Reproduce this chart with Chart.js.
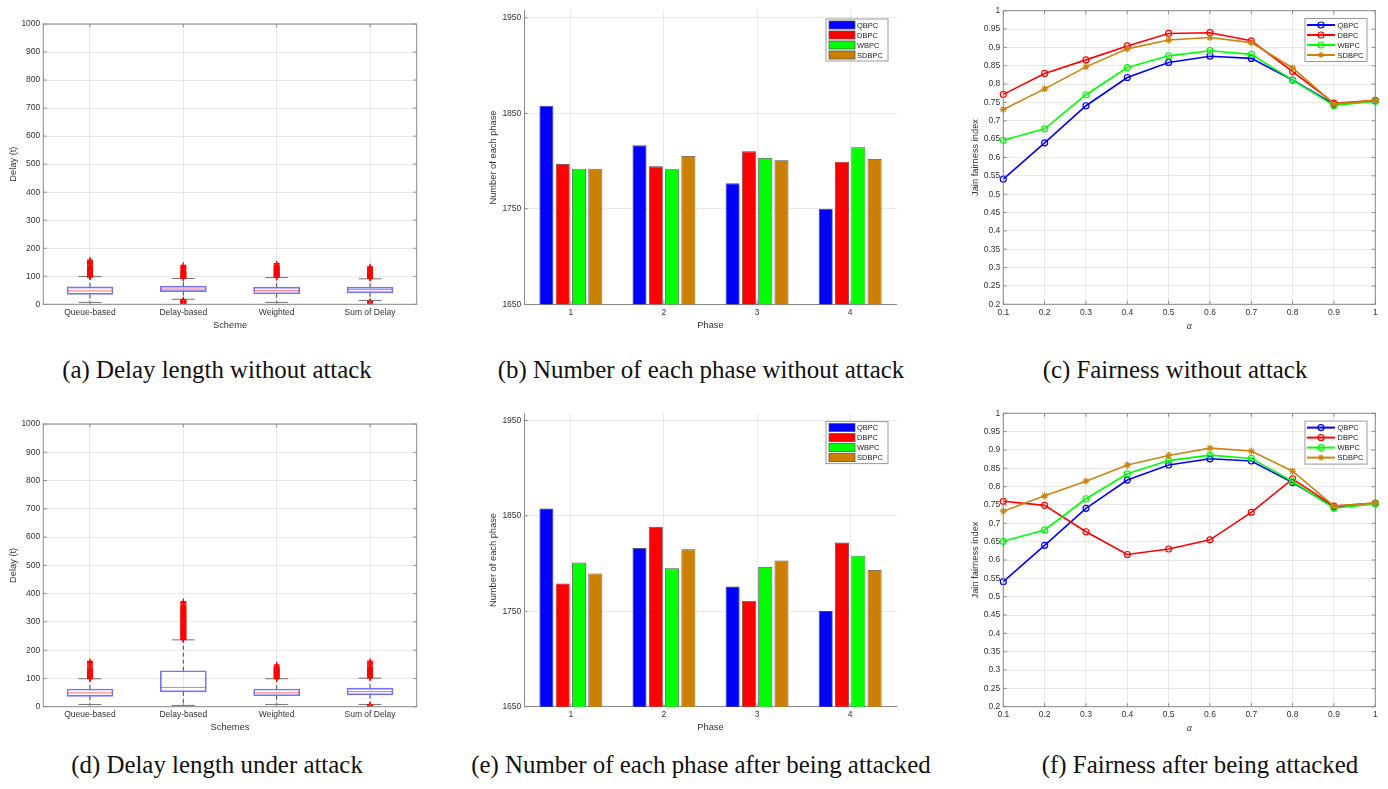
<!DOCTYPE html>
<html>
<head>
<meta charset="utf-8">
<script src="https://cdn.jsdelivr.net/npm/chart.js@4.4.1/dist/chart.umd.min.js"></script>
<style>
    body { margin: 0; background: #fff; width: 1388px; height: 789px; overflow: hidden; position: relative; }
    canvas { position: absolute; }
    .cap {
        position: absolute;
        font-family: 'Liberation Serif', 'Times New Roman', serif;
        font-size: 24.9px;
        line-height: 1;
        color: #111;
        white-space: nowrap;
        transform: translateX(-50%);
    }
</style>
</head>
<body>
<div class="cap" style="left:217px; top:358px;">(a) Delay length without attack</div>
<div class="cap" style="left:701px; top:358px;">(b) Number of each phase without attack</div>
<div class="cap" style="left:1175px; top:358px;">(c) Fairness without attack</div>
<div class="cap" style="left:217px; top:753px;">(d) Delay length under attack</div>
<div class="cap" style="left:701px; top:753px;">(e) Number of each phase after being attacked</div>
<div class="cap" style="left:1200px; top:753px;">(f) Fairness after being attacked</div>

<script>
/**
 * Figura: retardo, número de fases y equidad (sin ataque / con ataque)
 */

// ---------- Datos: diagramas de caja (retardo) ----------
const schemeLabels = ['Queue-based', 'Delay-based', 'Weighted', 'Sum of Delay'];
const delayTicks = [0, 100, 200, 300, 400, 500, 600, 700, 800, 900, 1000];

// (a) sin ataque
const q1NoAtk = [35.2, 45.4, 37.5, 40.9];
const medNoAtk = [47.7, 54.5, 48.8, 52.2];
const q3NoAtk = [62.4, 64.7, 61.3, 61.3];
const whiskLoNoAtk = [6.8, 18, 6.8, 13.6];
const whiskHiNoAtk = [98.8, 92, 95.3, 90.8];
const outQueueNoAtk = [97, 99, 100, 102, 104, 105, 107, 109, 111, 112, 114, 116, 118, 119, 121, 123, 125, 127, 129, 131, 134, 137, 140, 143, 146, 149, 152, 155, 158];
const outDelayNoAtk = [93, 95, 97, 99, 101, 103, 105, 107, 109, 111, 113, 115, 117, 120, 123, 127, 131, 135, 139, 3, 5, 6, 8, 10, 12, 14, 16];
const outWeightedNoAtk = [96, 98, 100, 102, 104, 106, 108, 110, 112, 114, 116, 118, 120, 122, 124, 126, 128, 130, 132, 135, 138, 141, 145];
const outSumNoAtk = [92, 94, 96, 98, 100, 102, 104, 106, 108, 110, 112, 114, 116, 118, 120, 122, 125, 128, 131, 134, 4, 6, 8, 10];

// (d) con ataque
const q1Atk = [36.4, 52.3, 38.6, 42.0];
const medAtk = [48.9, 68.2, 48.9, 53.4];
const q3Atk = [62.5, 127.3, 62.5, 65.9];
const whiskLoAtk = [8, 4.5, 8, 8];
const whiskHiAtk = [98.9, 236.4, 98.9, 101];
const outQueueAtk = [99, 101, 103, 105, 107, 109, 111, 113, 115, 117, 119, 121, 123, 125, 127, 129, 131, 133, 136, 140, 144, 148, 152, 156, 160];
const outDelayAtk = [237, 239, 241, 243, 245, 247, 249, 251, 253, 255, 257, 259, 261, 263, 265, 267, 269, 271, 273, 275, 277, 279, 281, 283, 285, 287, 289, 291, 293, 295, 297, 299, 301, 303, 305, 307, 309, 311, 313, 315, 317, 319, 321, 323, 325, 327, 329, 331, 333, 335, 337, 339, 341, 343, 345, 348, 351, 354, 357, 360, 364, 368, 372];
const outWeightedAtk = [99, 101, 103, 105, 107, 109, 111, 113, 115, 117, 119, 121, 123, 125, 127, 129, 131, 133, 135, 138, 141, 144, 148];
const outSumAtk = [102, 104, 106, 108, 110, 112, 114, 116, 118, 120, 122, 124, 126, 128, 130, 132, 135, 138, 141, 144, 148, 152, 156, 161, 1, 3, 5, 7];

// ---------- Datos: número de cada fase ----------
const phaseLabels = ['1', '2', '3', '4'];
const phaseTicks = [1650, 1750, 1850, 1950];
const phaseQbpcNoAtk = [1858, 1816.5, 1776.7, 1750.2];
const phaseDbpcNoAtk = [1797, 1794.5, 1810.2, 1799.4];
const phaseWbpcNoAtk = [1792, 1791.4, 1803.2, 1814.4];
const phaseSdbpcNoAtk = [1792, 1805.3, 1800.8, 1802.2];
const phaseQbpcAtk = [1857.8, 1816.3, 1776.1, 1750.2];
const phaseDbpcAtk = [1779.2, 1838.3, 1761.1, 1822.2];
const phaseWbpcAtk = [1801.2, 1795, 1796.4, 1808.2];
const phaseSdbpcAtk = [1789.7, 1814.9, 1803.3, 1793.2];

// ---------- Datos: índice de equidad de Jain ----------
const alphaLabels = ['0.1', '0.2', '0.3', '0.4', '0.5', '0.6', '0.7', '0.8', '0.9', '1'];
const fairTicks = [0.2, 0.25, 0.3, 0.35, 0.4, 0.45, 0.5, 0.55, 0.6, 0.65, 0.7, 0.75, 0.8, 0.85, 0.9, 0.95, 1];
const fairQbpcNoAtk = [0.541, 0.640, 0.741, 0.818, 0.859, 0.876, 0.870, 0.811, 0.745, 0.754];
const fairDbpcNoAtk = [0.772, 0.829, 0.866, 0.904, 0.938, 0.940, 0.918, 0.834, 0.748, 0.756];
const fairWbpcNoAtk = [0.647, 0.678, 0.771, 0.845, 0.877, 0.891, 0.881, 0.811, 0.742, 0.753];
const fairSdbpcNoAtk = [0.731, 0.787, 0.847, 0.896, 0.920, 0.927, 0.913, 0.844, 0.746, 0.755];
const fairQbpcAtk = [0.541, 0.640, 0.741, 0.818, 0.859, 0.876, 0.870, 0.811, 0.745, 0.754];
const fairDbpcAtk = [0.760, 0.749, 0.677, 0.615, 0.630, 0.655, 0.730, 0.821, 0.747, 0.755];
const fairWbpcAtk = [0.651, 0.682, 0.767, 0.835, 0.871, 0.886, 0.877, 0.814, 0.741, 0.753];
const fairSdbpcAtk = [0.733, 0.775, 0.815, 0.859, 0.885, 0.905, 0.897, 0.842, 0.747, 0.755];

// ---------- Estilos ----------
const FONT = "'Liberation Sans', Arial, Helvetica, sans-serif";
const TEXT_COLOR = '#333';
const GRID_COLOR = 'rgba(0,0,0,0.085)';
const AXIS_COLOR = '#8a8a8a';
const COLORES = {
    q: '#0000ff',
    d: '#ff0000',
    w: '#00ff00',
    sd: '#cc8000'
};

// Posiciones de cada panel (canvas y área de trazado, en px de página)
const panelA = { x: 0, y: 0, w: 460, h: 335, l: 43.3, t: 10.7, r: 416.7, b: 304.3, xTitleY: 325, yTitleX: 13.8 };
const panelB = { x: 460, y: 0, w: 460, h: 335, l: 524.3, t: 10.7, r: 896.7, b: 304.3, xTitleY: 325, yTitleX: 493.7 };
const panelC = { x: 920, y: 0, w: 468, h: 335, l: 1003.3, t: 10.7, r: 1375.3, b: 304.3, xTitleY: 326, yTitleX: 975.8 };
const panelD = { x: 0, y: 400, w: 460, h: 337, l: 43.3, t: 413.3, r: 416.7, b: 706.7, xTitleY: 727.3, yTitleX: 13.8 };
const panelE = { x: 460, y: 400, w: 460, h: 337, l: 524.3, t: 413.3, r: 896.7, b: 706.7, xTitleY: 727.3, yTitleX: 493.7 };
const panelF = { x: 920, y: 400, w: 468, h: 337, l: 1003.3, t: 413.3, r: 1375.3, b: 706.7, xTitleY: 728.3, yTitleX: 975.8 };

// Plugin: marco, marcas de ticks hacia dentro y leyenda interior
const panelDecor = {
    id: 'panelDecor',
    afterDraw(chart, args, opts) {
        const { ctx, chartArea: a, scales } = chart;
        const tl = 3.5;
        ctx.save();
        ctx.strokeStyle = AXIS_COLOR;
        ctx.lineWidth = 1;
        ctx.beginPath();
        scales.y.ticks.forEach(t => {
            const py = scales.y.getPixelForValue(t.value);
            ctx.moveTo(a.left, py);
            ctx.lineTo(a.left + tl, py);
            if (opts.frame) {
                ctx.moveTo(a.right, py);
                ctx.lineTo(a.right - tl, py);
            }
        });
        scales.x.ticks.forEach((t, i) => {
            const px = scales.x.getPixelForTick(i);
            ctx.moveTo(px, a.bottom);
            ctx.lineTo(px, a.bottom - tl);
            if (opts.frame) {
                ctx.moveTo(px, a.top);
                ctx.lineTo(px, a.top + tl);
            }
        });
        ctx.stroke();
        if (opts.frame) {
            ctx.strokeRect(a.left, a.top, a.right - a.left, a.bottom - a.top);
        }
        if (opts.legend) dibujarLeyenda(chart, opts.legend);
        ctx.restore();
    }
};

function dibujarMarcador(ctx, estilo, x, y, r) {
    ctx.beginPath();
    if (estilo === 'star') {
        ctx.moveTo(x - r, y); ctx.lineTo(x + r, y);
        ctx.moveTo(x, y - r); ctx.lineTo(x, y + r);
        const k = r * 0.707;
        ctx.moveTo(x - k, y - k); ctx.lineTo(x + k, y + k);
        ctx.moveTo(x - k, y + k); ctx.lineTo(x + k, y - k);
    } else {
        ctx.arc(x, y, r, 0, Math.PI * 2);
    }
    ctx.stroke();
}

function dibujarLeyenda(chart, lg) {
    const { ctx, chartArea: a } = chart;
    const bx = a.right - lg.right - lg.width;
    const by = a.top + lg.top;
    ctx.fillStyle = '#fff';
    ctx.fillRect(bx, by, lg.width, lg.height);
    ctx.strokeStyle = '#9a9a9a';
    ctx.lineWidth = 1;
    ctx.strokeRect(bx, by, lg.width, lg.height);
    ctx.font = `7.5px ${FONT}`;
    ctx.textBaseline = 'middle';
    ctx.textAlign = 'left';
    chart.data.datasets.forEach((ds, i) => {
        const cy = by + lg.pad + i * lg.row;
        let textX;
        if (lg.kind === 'bar') {
            const x0 = bx + 3;
            ctx.fillStyle = ds.backgroundColor;
            ctx.fillRect(x0, cy - 4, 26, 8);
            ctx.strokeStyle = '#555';
            ctx.lineWidth = 0.8;
            ctx.strokeRect(x0, cy - 4, 26, 8);
            textX = x0 + 28;
        } else {
            const x0 = bx + 2;
            ctx.strokeStyle = ds.borderColor;
            ctx.lineWidth = 2;
            ctx.beginPath();
            ctx.moveTo(x0, cy);
            ctx.lineTo(x0 + 28, cy);
            ctx.stroke();
            ctx.lineWidth = 1.2;
            dibujarMarcador(ctx, ds.pointStyle, x0 + 14, cy, 3);
            textX = x0 + 30.5;
        }
        ctx.fillStyle = '#222';
        ctx.fillText(ds.label, textX, cy + 0.5);
    });
}

function crearCanvas(p) {
    const canvas = document.createElement('canvas');
    canvas.width = p.w;
    canvas.height = p.h;
    canvas.style.left = p.x + 'px';
    canvas.style.top = p.y + 'px';
    canvas.style.width = p.w + 'px';
    canvas.style.height = p.h + 'px';
    document.body.appendChild(canvas);
    return canvas;
}

function ejeY(p, titulo, min, max, ticks, formato) {
    const lh = 9.3 * 1.2;
    return {
        type: 'linear',
        min: min,
        max: max,
        afterBuildTicks: s => { s.ticks = ticks.map(v => ({ value: v })); },
        afterFit: s => { s.width = p.l - p.x; },
        ticks: {
            color: TEXT_COLOR,
            font: { family: FONT, size: 8.5 },
            padding: 3,
            callback: formato
        },
        grid: { color: GRID_COLOR, drawTicks: false },
        border: { display: false },
        title: {
            display: true,
            text: titulo,
            color: TEXT_COLOR,
            font: { family: FONT, size: 9.3 },
            padding: { top: p.yTitleX - p.x - lh / 2, bottom: 0 }
        }
    };
}

function ejeX(p, titulo, offset, fuenteTitulo) {
    const font = fuenteTitulo || { family: FONT, size: 9.3 };
    const lh = font.size * 1.2;
    return {
        type: 'category',
        offset: offset,
        afterFit: s => { s.height = (p.y + p.h) - p.b; },
        ticks: {
            color: TEXT_COLOR,
            font: { family: FONT, size: 8.5 },
            padding: 3,
            autoSkip: false,
            maxRotation: 0,
            minRotation: 0
        },
        grid: { color: GRID_COLOR, drawTicks: false, offset: false },
        border: { display: false },
        title: {
            display: true,
            text: titulo,
            color: TEXT_COLOR,
            font: font,
            padding: { top: 0, bottom: (p.y + p.h) - p.xTitleY - lh / 2 }
        }
    };
}

function opcionesBase(p, decor) {
    return {
        responsive: false,
        devicePixelRatio: 1,
        animation: false,
        events: [],
        layout: { padding: { top: p.t - p.y, right: (p.x + p.w) - p.r, left: 0, bottom: 0 } },
        plugins: {
            legend: { display: false },
            tooltip: { enabled: false },
            panelDecor: decor
        }
    };
}

// ---------- Diagrama de caja ----------
function crearCajas(p, tituloX, q1, med, q3, lo, hi, atipicos) {
    const canvas = crearCanvas(p);
    const puntosAtipicos = atipicos.flatMap((vals, i) => vals.map(v => ({ x: schemeLabels[i], y: v })));
    const bigotes = schemeLabels.flatMap((c, i) => [
        { x: c, y: q3[i] }, { x: c, y: hi[i] }, { x: c, y: null },
        { x: c, y: q1[i] }, { x: c, y: lo[i] }, { x: c, y: null }
    ]);
    const options = opcionesBase(p, { frame: true });
    options.scales = {
        x: ejeX(p, tituloX, true),
        y: ejeY(p, 'Delay (t)', 0, 1000, delayTicks, v => String(v))
    };
    return new Chart(canvas, {
        type: 'bar',
        data: {
            labels: schemeLabels,
            datasets: [
                {
                    type: 'line',
                    data: puntosAtipicos,
                    showLine: false,
                    pointStyle: 'cross',
                    pointRadius: 3,
                    pointBorderWidth: 1.2,
                    pointBorderColor: '#ff0000',
                    order: 0
                },
                {
                    type: 'line',
                    data: med,
                    showLine: false,
                    pointStyle: 'line',
                    pointRadius: 23,
                    pointBorderWidth: 1,
                    pointBorderColor: 'rgba(255,60,60,0.75)',
                    order: 1
                },
                {
                    type: 'bar',
                    data: schemeLabels.map((c, i) => [q1[i], q3[i]]),
                    backgroundColor: 'rgba(0,0,0,0)',
                    borderColor: 'rgba(40,40,255,0.65)',
                    borderWidth: 1,
                    borderSkipped: false,
                    barThickness: 46,
                    order: 2
                },
                {
                    type: 'line',
                    data: bigotes,
                    borderColor: 'rgba(0,0,0,0.7)',
                    borderWidth: 1,
                    borderDash: [4, 3],
                    pointRadius: 0,
                    spanGaps: false,
                    order: 3
                },
                {
                    type: 'line',
                    data: hi,
                    showLine: false,
                    pointStyle: 'line',
                    pointRadius: 11.5,
                    pointBorderWidth: 1,
                    pointBorderColor: 'rgba(0,0,0,0.55)',
                    order: 3
                },
                {
                    type: 'line',
                    data: lo,
                    showLine: false,
                    pointStyle: 'line',
                    pointRadius: 11.5,
                    pointBorderWidth: 1,
                    pointBorderColor: 'rgba(0,0,0,0.55)',
                    order: 3
                }
            ]
        },
        options: options,
        plugins: [panelDecor]
    });
}

// ---------- Barras por fase ----------
function crearBarras(p, q, d, w, sd) {
    const canvas = crearCanvas(p);
    const options = opcionesBase(p, {
        frame: false,
        legend: { kind: 'bar', right: 8.7, top: 8.3, width: 62, height: 42, pad: 6, row: 10 }
    });
    const x = ejeX(p, 'Phase', true);
    const y = ejeY(p, 'Number of each phase', 1650, 1957.5, phaseTicks, v => String(v));
    x.border = { display: true, color: AXIS_COLOR, width: 1 };
    y.border = { display: true, color: AXIS_COLOR, width: 1 };
    options.scales = { x: x, y: y };
    options.datasets = { bar: { categoryPercentage: 0.7, barPercentage: 0.86 } };
    const serie = (label, data, color) => ({
        label: label,
        data: data,
        backgroundColor: color,
        borderColor: '#4a4a4a',
        borderWidth: 0.8,
        borderSkipped: false
    });
    return new Chart(canvas, {
        type: 'bar',
        data: {
            labels: phaseLabels,
            datasets: [
                serie('QBPC', q, COLORES.q),
                serie('DBPC', d, COLORES.d),
                serie('WBPC', w, COLORES.w),
                serie('SDBPC', sd, COLORES.sd)
            ]
        },
        options: options,
        plugins: [panelDecor]
    });
}

// ---------- Líneas de equidad ----------
function crearEquidad(p, q, d, w, sd) {
    const canvas = crearCanvas(p);
    const options = opcionesBase(p, {
        frame: true,
        legend: { kind: 'line', right: 8.3, top: 7.8, width: 62, height: 43, pad: 6.5, row: 10 }
    });
    options.scales = {
        x: ejeX(p, 'α', false, { family: "'Liberation Serif', serif", size: 10, style: 'italic' }),
        y: ejeY(p, 'Jain fairness index', 0.2, 1, fairTicks, v => String(Math.round(v * 100) / 100))
    };
    const serie = (label, data, color, estilo, orden) => ({
        label: label,
        data: data,
        borderColor: color,
        backgroundColor: color,
        borderWidth: 1.6,
        pointStyle: estilo,
        pointRadius: estilo === 'star' ? 3.5 : 3,
        pointBorderWidth: 1.2,
        pointBorderColor: color,
        pointBackgroundColor: 'rgba(0,0,0,0)',
        tension: 0,
        order: orden
    });
    return new Chart(canvas, {
        type: 'line',
        data: {
            labels: alphaLabels,
            datasets: [
                serie('QBPC', q, COLORES.q, 'circle', 4),
                serie('DBPC', d, COLORES.d, 'circle', 3),
                serie('WBPC', w, COLORES.w, 'circle', 2),
                serie('SDBPC', sd, '#cc8410', 'star', 1)
            ]
        },
        options: options,
        plugins: [panelDecor]
    });
}

crearCajas(panelA, 'Scheme', q1NoAtk, medNoAtk, q3NoAtk, whiskLoNoAtk, whiskHiNoAtk,
    [outQueueNoAtk, outDelayNoAtk, outWeightedNoAtk, outSumNoAtk]);
crearBarras(panelB, phaseQbpcNoAtk, phaseDbpcNoAtk, phaseWbpcNoAtk, phaseSdbpcNoAtk);
crearEquidad(panelC, fairQbpcNoAtk, fairDbpcNoAtk, fairWbpcNoAtk, fairSdbpcNoAtk);
crearCajas(panelD, 'Schemes', q1Atk, medAtk, q3Atk, whiskLoAtk, whiskHiAtk,
    [outQueueAtk, outDelayAtk, outWeightedAtk, outSumAtk]);
crearBarras(panelE, phaseQbpcAtk, phaseDbpcAtk, phaseWbpcAtk, phaseSdbpcAtk);
crearEquidad(panelF, fairQbpcAtk, fairDbpcAtk, fairWbpcAtk, fairSdbpcAtk);
</script>
</body>
</html>
